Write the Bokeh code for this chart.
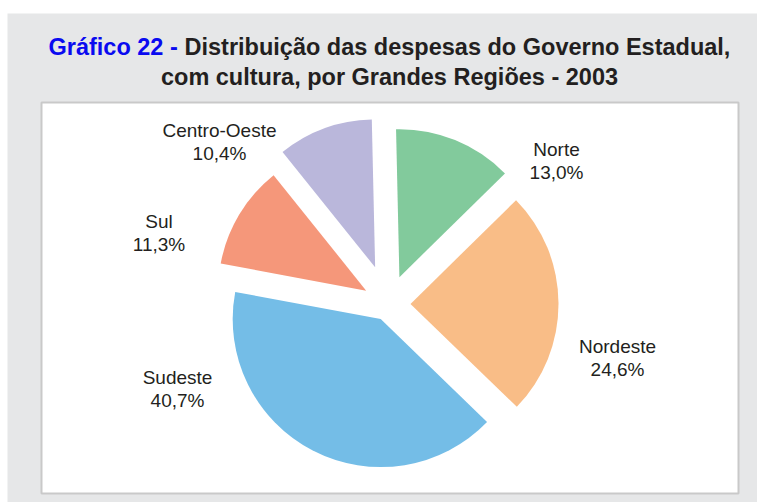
import numpy as np
from bokeh.plotting import figure
from bokeh.models import ColumnDataSource, Range1d, Label, Spacer, BoxAnnotation
from bokeh.layouts import column, row
from bokeh.core.properties import value
from bokeh.embed import file_html
from bokeh.resources import INLINE

# ---- data ----
regions = ["Norte", "Nordeste", "Sudeste", "Sul", "Centro-Oeste"]
shares = [13.0, 24.6, 40.7, 11.3, 10.4]
title_prefix = "Gráfico 22 -"
title_line1 = "Distribuição das despesas do Governo Estadual,"
title_line2 = "com cultura, por Grandes Regiões - 2003"

# ---- style ----
colors = ["#82ca9c", "#f9bd87", "#74bde7", "#f5977a", "#bab7db"]
explode = [29, 22, 17, 26, 39]
label_pos = [(168, 154.5), (229, -42.5), (-211, -73.5), (-229.5, 82.5), (-169, 174)]
line_gap = 23
radius = 148
start_deg = 91.3
bg = "#e6e7e8"
txt = "#231f20"

vals = np.array(shares, dtype=float)
frac = vals / vals.sum()
cum = np.concatenate([[0.0], np.cumsum(frac)[:-1]])
top = np.deg2rad(start_deg) - cum * 2 * np.pi
bot = top - frac * 2 * np.pi
mid = (top + bot) / 2
ex = np.array(explode, dtype=float)

src = ColumnDataSource(dict(
    x=ex * np.cos(mid), y=ex * np.sin(mid),
    start=bot, end=top, color=colors,
))

pct = [f"{v:.1f}".replace(".", ",") + "%" for v in shares]
lab = ColumnDataSource(dict(
    x=[p[0] for p in label_pos],
    y1=[p[1] for p in label_pos],
    y2=[p[1] - line_gap for p in label_pos],
    name=regions, pct=pct,
))

p = figure(width=750, height=489, output_backend="svg", toolbar_location=None,
           x_range=Range1d(-381, 369), y_range=Range1d(-198.5, 290.5),
           x_axis_type=None, y_axis_type=None,
           min_border=0)
p.grid.visible = False
p.border_fill_color = bg
p.background_fill_color = bg
p.outline_line_color = None

p.add_layout(BoxAnnotation(left=-347, right=350, bottom=-189.5, top=201.5,
                           fill_color="white", fill_alpha=1.0,
                           line_color="#c9c9c9", line_width=2, line_alpha=1.0,
                           level="underlay"))

p.wedge(x="x", y="y", radius=radius, start_angle="start", end_angle="end",
        direction="anticlock", fill_color="color", line_color=None, source=src)

for col, yk in (("name", "y1"), ("pct", "y2")):
    p.text(x="x", y=yk, text=col, source=lab, text_align="center",
           text_baseline="alphabetic", text_font=value("Liberation Sans"),
           text_font_size="19px", text_color=txt)

p.add_layout(Label(x=-340, y=257.5, text=title_prefix, text_font="Liberation Sans",
                   text_font_style="bold", text_font_size="23.5px", text_color="#0a0af0",
                   text_align="left", text_baseline="alphabetic"))
p.add_layout(Label(x=-204, y=257.5, text=title_line1, text_font="Liberation Sans",
                   text_font_style="bold", text_font_size="23.5px", text_color=txt,
                   text_align="left", text_baseline="alphabetic"))
p.add_layout(Label(x=1, y=227, text=title_line2, text_font="Liberation Sans",
                   text_font_style="bold", text_font_size="23.5px", text_color=txt,
                   text_align="center", text_baseline="alphabetic"))

layout = column(Spacer(width=757, height=13), row(Spacer(width=7, height=489), p))
open("out.html", "w").write(file_html(layout, INLINE))
